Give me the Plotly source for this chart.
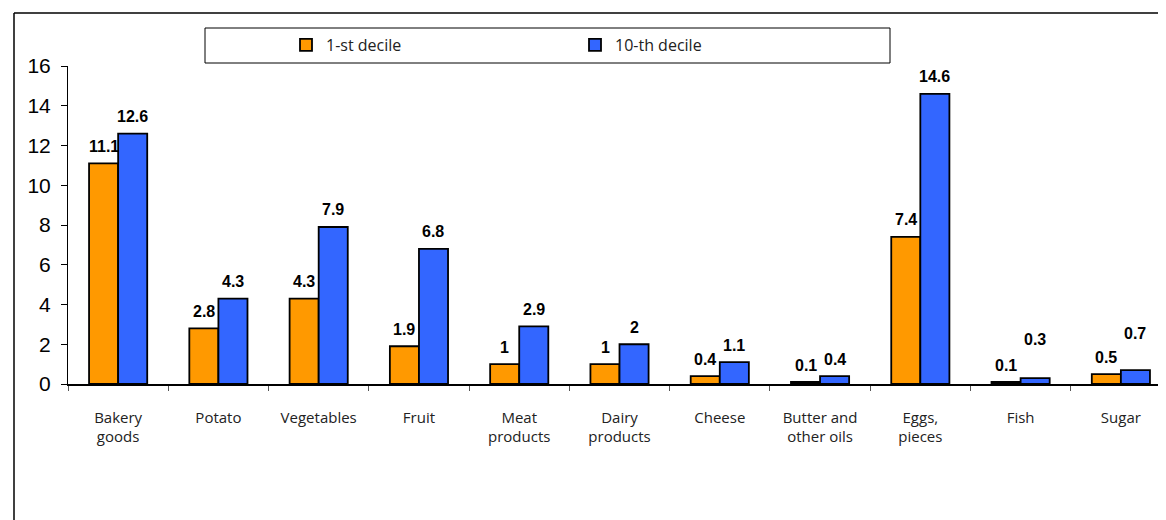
import plotly.graph_objects as go

categories = ["Bakery<br>goods", "Potato", "Vegetables", "Fruit", "Meat<br>products",
              "Dairy<br>products", "Cheese", "Butter and<br>other oils", "Eggs,<br>pieces",
              "Fish", "Sugar"]
decile_1 = [11.1, 2.8, 4.3, 1.9, 1, 1, 0.4, 0.1, 7.4, 0.1, 0.5]
decile_10 = [12.6, 4.3, 7.9, 6.8, 2.9, 2, 1.1, 0.4, 14.6, 0.3, 0.7]
y_ticks = [0, 2, 4, 6, 8, 10, 12, 14, 16]

# page offset (browser body margin) compensation
OFF = 8
W, H = 1166 - OFF, 520 - OFF
L, T, B = 68 - OFF, 66 - OFF, 520 - 384
pw, ph = W - L, H - T - B


def fx(s):  # screen x -> paper
    return (s - OFF - L) / pw


def fy(s):  # screen y -> paper
    return (H - B - (s - OFF)) / ph


series = [("1-st decile", decile_1, "#FF9900", -14.5),
          ("10-th decile", decile_10, "#3366FF", 14.5)]

# extra lift (px) for labels moved by hand in the original to avoid overlaps
label_lift = {("10-th decile", 9): 22, ("10-th decile", 10): 20}

fig = go.Figure()
for name, vals, color, shift in series:
    fig.add_trace(go.Bar(
        x=categories, y=vals, name=name,
        marker=dict(color=color, line=dict(color="black", width=1.8)),
    ))
    for i, (c, v) in enumerate(zip(categories, vals)):
        fig.add_annotation(
            x=c, y=v, text=f"{v:g}", showarrow=False,
            xshift=shift, yshift=17 + label_lift.get((name, i), 0), yanchor="middle",
            font=dict(family="Liberation Sans, Arial", size=16, color="black", weight="bold"),
        )

fig.update_layout(
    width=W, height=H,
    margin=dict(l=L, r=0, t=T, b=B),
    paper_bgcolor="white", plot_bgcolor="white",
    barmode="group", bargap=0.42, bargroupgap=0,
    legend=dict(orientation="h", x=fx(286), y=fy(45), xanchor="left", yanchor="middle",
                font=dict(family="Open Sans", size=16, color="#222"),
                bgcolor="rgba(0,0,0,0)", entrywidth=244, entrywidthmode="pixels",
                itemwidth=30),
    xaxis=dict(range=[-0.5, 10.45], showline=True, linecolor="black", linewidth=1.5,
               ticks="outside", tickson="boundaries", ticklen=5, tickcolor="#555",
               tickfont=dict(family="Open Sans", size=15, color="#222"),
               ticklabelstandoff=19, showgrid=False),
    yaxis=dict(range=[0, 16], tickvals=y_ticks, showline=True, linecolor="black", linewidth=1,
               ticks="outside", ticklen=6, tickcolor="black", showgrid=False, zeroline=False,
               ticklabelstandoff=6,
               tickfont=dict(family="Liberation Sans, Arial", size=21, color="black")),
    shapes=[
        dict(type="line", xref="paper", yref="paper", x0=fx(14), x1=fx(14),
             y0=fy(13), y1=fy(530), line=dict(color="black", width=1.5)),
        dict(type="line", xref="paper", yref="paper", x0=fx(14), x1=fx(1175),
             y0=fy(13), y1=fy(13), line=dict(color="black", width=1.5)),
        dict(type="rect", xref="paper", yref="paper", x0=fx(205), x1=fx(890),
             y0=fy(63), y1=fy(28), line=dict(color="black", width=1)),
    ],
)

fig.write_html("out.html")
